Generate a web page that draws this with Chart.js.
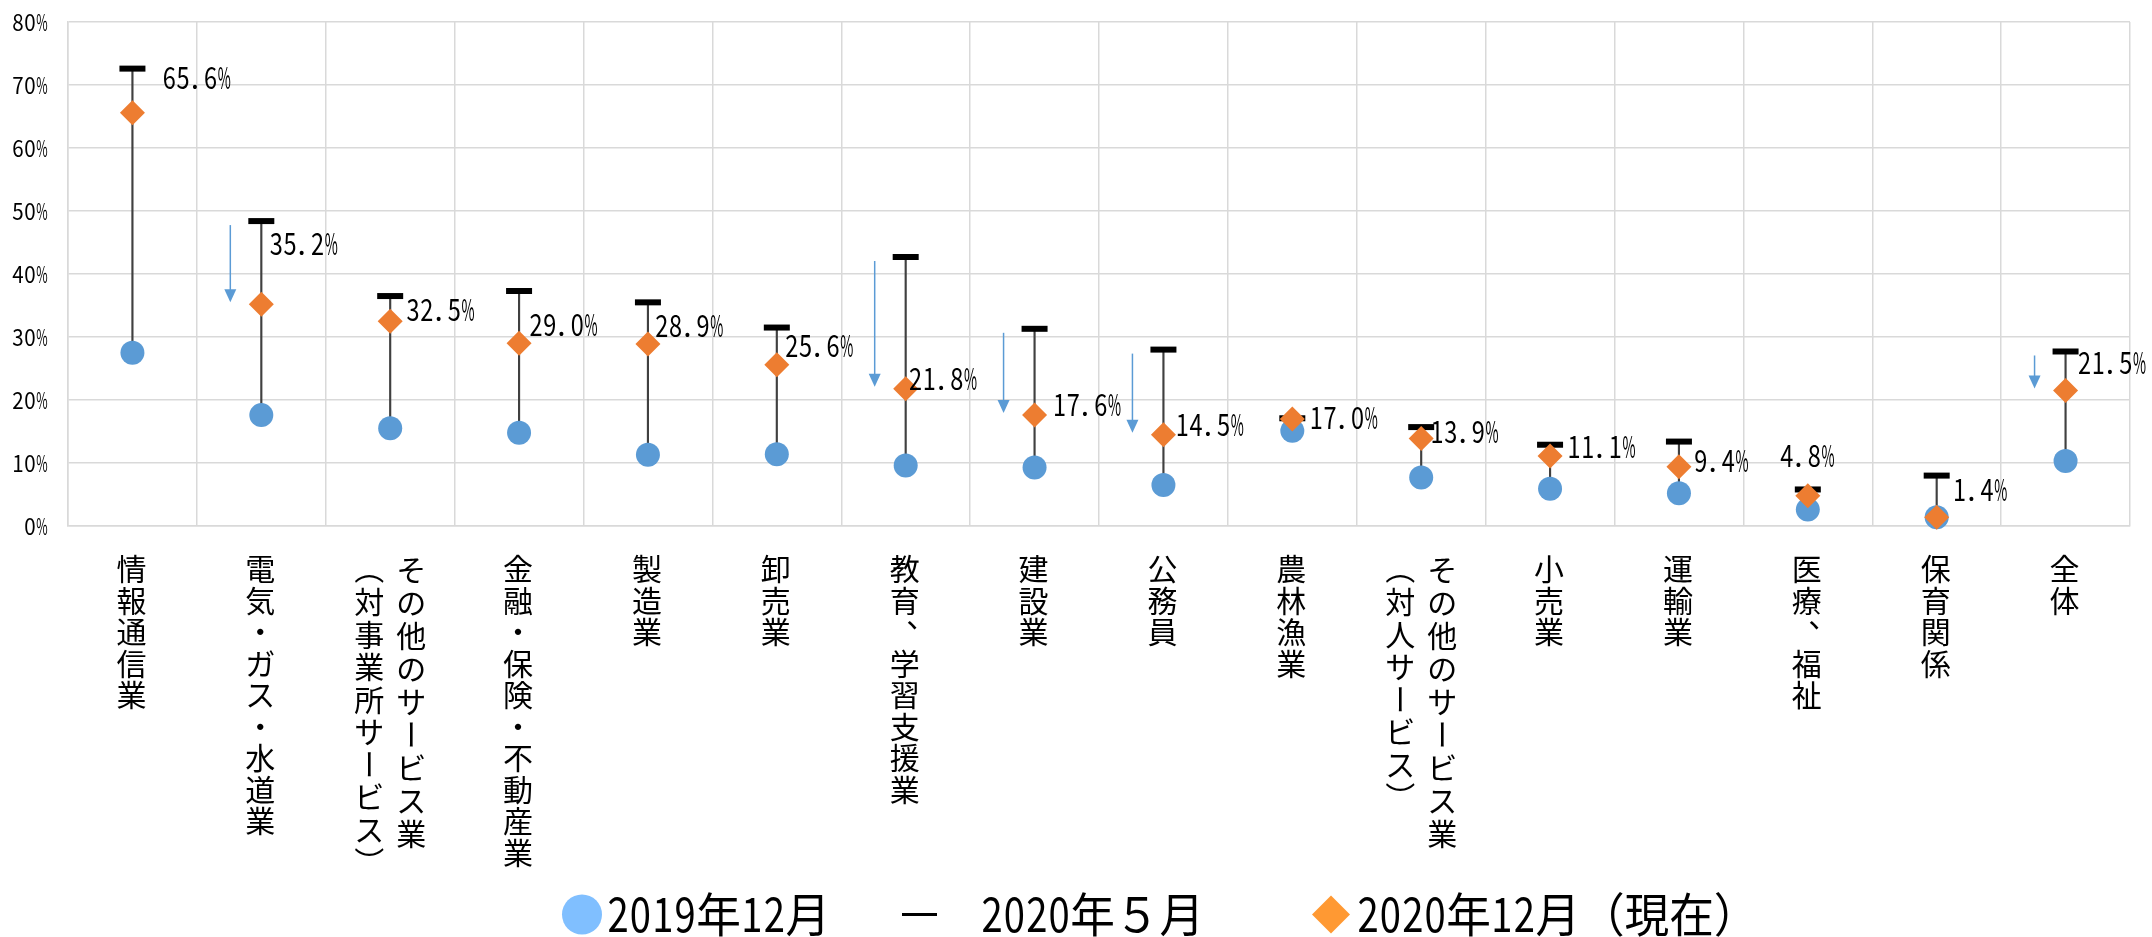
<!DOCTYPE html>
<html>
<head>
<meta charset="utf-8">
<script src="https://cdn.jsdelivr.net/npm/chart.js@4/dist/chart.umd.min.js"></script>
<style>
  html, body { margin: 0; padding: 0; background: #ffffff; }
  #wrap { width: 2152px; height: 937px; position: relative; }
</style>
</head>
<body>
<div id="wrap"><canvas id="chart" width="2152" height="937"></canvas></div>
<script>
// ---- data ----
const categories = [
  ['情報通信業'],
  ['電気・ガス・水道業'],
  ['その他のサービス業', '（対事業所サービス）'],
  ['金融・保険・不動産業'],
  ['製造業'],
  ['卸売業'],
  ['教育、学習支援業'],
  ['建設業'],
  ['公務員'],
  ['農林漁業'],
  ['その他のサービス業', '（対人サービス）'],
  ['小売業'],
  ['運輸業'],
  ['医療、福祉'],
  ['保育関係'],
  ['全体']
];
const seriesNames = ['2019年12月', '2020年５月', '2020年12月（現在）'];
const dec2019 = [27.5, 17.6, 15.5, 14.8, 11.3, 11.4, 9.6, 9.3, 6.5, 15.1, 7.7, 5.9, 5.2, 2.6, 1.4, 10.3];
const may2020 = [72.6, 48.4, 36.5, 37.3, 35.5, 31.5, 42.7, 31.3, 28.0, 17.1, 15.7, 12.9, 13.4, 5.8, 8.0, 27.7];
const dec2020 = [65.6, 35.2, 32.5, 29.0, 28.9, 25.6, 21.8, 17.6, 14.5, 17.0, 13.9, 11.1, 9.4, 4.8, 1.4, 21.5];
const yTickValues = [0, 10, 20, 30, 40, 50, 60, 70, 80];
// categories that carry a downward arrow (May → December change)
const arrowCategories = ['電気・ガス・水道業', '教育、学習支援業', '建設業', '公務員', '全体'];

// ---- layout / style ----
const FONT_JP = '"Noto Sans CJK JP", "Noto Sans", sans-serif';
const COLORS = { circle: '#5B9BD5', diamond: '#ED7D31', cap: '#000000', range: '#404040',
                 grid: '#D9D9D9', arrow: '#5B9BD5', legendCircle: '#80BFFF', legendDiamond: '#FF9933' };
// pixel nudges for each value label, relative to its diamond: [dx, dy]
const labelNudge = [[30,-35],[8,-60],[16,-11],[10,-18],[7,-18],[8,-19],[3,-10],[18,-10],[12,-10],[17,-1],[9,-6],[17,-9],[15,-6],[-28,-40],[16,-27],[12,-28]];

const isHalf = ch => /[\x20-\x7e]/.test(ch);

// draws text on a grid of half/full-width cells, squeezing glyphs to fit
function drawCellText(ctx, text, x, yBase, fontPx, em, align, squeezeFull) {
  const chars = [...text];
  const widths = chars.map(ch => isHalf(ch) ? em / 2 : em);
  const total = widths.reduce((a, b) => a + b, 0);
  let cx = align === 'right' ? x - total : align === 'center' ? x - total / 2 : x;
  ctx.font = fontPx + 'px ' + FONT_JP;
  ctx.textBaseline = 'alphabetic';
  chars.forEach((ch, i) => {
    const w = widths[i];
    const m = ctx.measureText(ch).width || 1;
    let sx = isHalf(ch) ? Math.min(1, (w * 0.95) / m) : (squeezeFull || 1);
    ctx.save();
    if (ch === '.') {
      ctx.textAlign = 'left';
      ctx.translate(cx + w * 0.05, yBase);
    } else {
      ctx.textAlign = 'center';
      ctx.translate(cx + w / 2, yBase);
    }
    ctx.scale(sx, 1);
    ctx.fillText(ch, 0, 0);
    ctx.restore();
    cx += w;
  });
}

// vertical (top-to-bottom) category text
function drawVerticalText(ctx, text, cx, top, fontPx, pitch) {
  ctx.font = fontPx + 'px ' + FONT_JP;
  ctx.textAlign = 'center';
  ctx.textBaseline = 'middle';
  [...text].forEach((ch, i) => {
    const cy = top + pitch * (i + 0.5);
    ctx.save();
    ctx.translate(cx, cy);
    if ('ー（）'.includes(ch)) ctx.rotate(Math.PI / 2);
    if (ch === '、') ctx.translate(fontPx * 0.55, -fontPx * 0.55);
    ctx.fillText(ch, 0, 0);
    ctx.restore();
  });
}

const textPlugin = {
  id: 'chartText',
  afterDatasetsDraw(chart) {
    const ctx = chart.ctx;
    const xs = chart.scales.x, ys = chart.scales.y;
    // arrows
    ctx.save();
    ctx.strokeStyle = COLORS.arrow;
    ctx.fillStyle = COLORS.arrow;
    ctx.lineWidth = 1.5;
    categories.forEach((c, i) => {
      if (!arrowCategories.includes(c.join(''))) return;
      const x = xs.getPixelForValue(i) - 31;
      const y0 = ys.getPixelForValue(may2020[i]) + 4;
      const y1 = ys.getPixelForValue(dec2020[i]) - 2;
      ctx.beginPath();
      ctx.moveTo(x, y0);
      ctx.lineTo(x, y1 - 12);
      ctx.stroke();
      ctx.beginPath();
      ctx.moveTo(x - 6, y1 - 13);
      ctx.lineTo(x + 6, y1 - 13);
      ctx.lineTo(x, y1);
      ctx.closePath();
      ctx.fill();
    });
    ctx.restore();
  },
  afterDraw(chart) {
    const ctx = chart.ctx;
    const xs = chart.scales.x, ys = chart.scales.y;
    ctx.save();
    ctx.fillStyle = '#000000';
    // y tick labels
    yTickValues.forEach(v => {
      const y = ys.getPixelForValue(v);
      drawCellText(ctx, v + '%', 48, y + 9, 23, 24, 'right');
    });
    // value labels for 2020年12月
    dec2020.forEach((v, i) => {
      const x = xs.getPixelForValue(i) + labelNudge[i][0];
      const y = ys.getPixelForValue(v) + labelNudge[i][1];
      drawCellText(ctx, v.toFixed(1) + '%', x, y + 11, 30, 27.5, 'left');
    });
    // category labels (vertical)
    categories.forEach((c, i) => {
      const cx = xs.getPixelForValue(i);
      if (c.length === 1) {
        drawVerticalText(ctx, c[0], cx - 1, 553, 30, 31.5);
      } else {
        drawVerticalText(ctx, c[0], cx + 21, 553, 30, 33);
        drawVerticalText(ctx, c[1], cx - 21, 553, 30, 32.5);
      }
    });
    // legend
    const ly = 914.5;
    ctx.fillStyle = COLORS.legendCircle;
    ctx.beginPath(); ctx.arc(582, ly, 20, 0, Math.PI * 2); ctx.fill();
    ctx.fillStyle = '#000000';
    drawCellText(ctx, seriesNames[0], 607, 932, 47, 44.6, 'left', 0.95);
    ctx.strokeStyle = COLORS.cap; ctx.lineWidth = 3;
    ctx.beginPath(); ctx.moveTo(902, ly); ctx.lineTo(937, ly); ctx.stroke();
    drawCellText(ctx, seriesNames[1], 981, 932, 47, 44.6, 'left', 0.95);
    ctx.fillStyle = COLORS.legendDiamond;
    ctx.beginPath();
    ctx.moveTo(1331, ly - 19); ctx.lineTo(1350, ly); ctx.lineTo(1331, ly + 19); ctx.lineTo(1312, ly);
    ctx.closePath(); ctx.fill();
    ctx.fillStyle = '#000000';
    drawCellText(ctx, seriesNames[2], 1357, 932, 47, 44.6, 'left', 0.95);
    ctx.restore();
  }
};

const rangeData = dec2019.map((v, i) => [Math.min(v, may2020[i], dec2020[i]), Math.max(v, may2020[i], dec2020[i])]);

new Chart(document.getElementById('chart'), {
  type: 'bar',
  data: {
    labels: categories.map(c => c.join('')),
    datasets: [
      { type: 'bar', label: 'range', data: rangeData, backgroundColor: COLORS.range,
        barThickness: 1.5, borderWidth: 0, order: 4 },
      { type: 'line', label: seriesNames[0], data: dec2019, showLine: false, clip: false,
        pointStyle: 'circle', pointRadius: 12, pointBackgroundColor: COLORS.circle,
        pointBorderWidth: 0, order: 3 },
      { type: 'line', label: seriesNames[1], data: may2020, showLine: false, clip: false,
        pointStyle: 'line', pointRadius: 13, pointBorderColor: COLORS.cap,
        pointBorderWidth: 6, order: 2 },
      { type: 'line', label: seriesNames[2], data: dec2020, showLine: false, clip: false,
        pointStyle: 'rectRot', pointRadius: 12.5, pointBackgroundColor: COLORS.diamond,
        pointBorderWidth: 0, order: 1 }
    ]
  },
  options: {
    responsive: false,
    animation: false,
    events: [],
    layout: { padding: { left: 68, right: 22, top: 22, bottom: 411 } },
    plugins: { legend: { display: false }, tooltip: { enabled: false } },
    scales: {
      x: {
        offset: true,
        grid: { offset: true, color: COLORS.grid, lineWidth: 1.5, drawTicks: false },
        border: { color: COLORS.grid, width: 1.5 },
        ticks: { display: false }
      },
      y: {
        min: 0, max: 80,
        ticks: { stepSize: 10, display: false },
        grid: { color: COLORS.grid, lineWidth: 1.5, drawTicks: false },
        border: { color: COLORS.grid, width: 1.5 }
      }
    }
  },
  plugins: [textPlugin]
});
</script>
</body>
</html>
